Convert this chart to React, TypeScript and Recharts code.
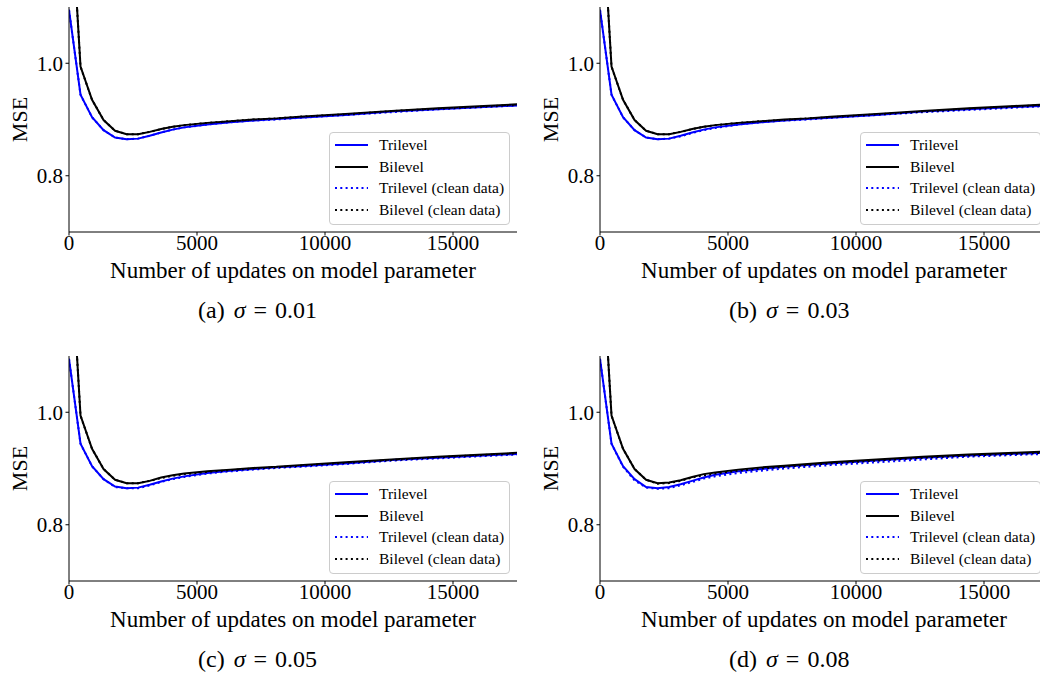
import { Label, Legend, Line, LineChart, XAxis, YAxis } from "recharts";

const FONT = '"Liberation Serif", "Times New Roman", serif';
const BLUE = "#0000ff";
const BLACK = "#000000";

// number of updates on the model parameter (x values of every curve)
const updates = [0, 450, 900, 1350, 1800, 2250, 2700, 3150, 3600, 4050, 4500, 5400, 6300, 7200, 8100, 9000, 10800, 12600, 14400, 16200, 18000];
const xTicks = [0, 5000, 10000, 15000];
const yTicks = [0.8, 1.0];

// (a) sigma = 0.01
const triA = [1.095, 0.944, 0.904, 0.881, 0.868, 0.865, 0.866, 0.871, 0.877, 0.882, 0.886, 0.891, 0.895, 0.898, 0.901, 0.903, 0.908, 0.914, 0.918, 0.922, 0.926];
const biA = [1.34, 0.994, 0.935, 0.899, 0.88, 0.874, 0.874, 0.878, 0.883, 0.887, 0.89, 0.894, 0.897, 0.9, 0.902, 0.905, 0.91, 0.915, 0.92, 0.924, 0.928];
const triCleanA = [1.095, 0.944, 0.904, 0.881, 0.868, 0.865, 0.866, 0.871, 0.877, 0.882, 0.886, 0.891, 0.895, 0.898, 0.9, 0.903, 0.908, 0.913, 0.918, 0.922, 0.926];
const biCleanA = [1.34, 0.994, 0.935, 0.899, 0.88, 0.874, 0.874, 0.878, 0.883, 0.887, 0.89, 0.894, 0.897, 0.9, 0.902, 0.905, 0.909, 0.915, 0.919, 0.923, 0.927];

// (b) sigma = 0.03
const triB = [1.095, 0.944, 0.904, 0.881, 0.868, 0.865, 0.866, 0.871, 0.877, 0.882, 0.886, 0.891, 0.895, 0.898, 0.901, 0.903, 0.908, 0.914, 0.918, 0.922, 0.926];
const biB = [1.34, 0.994, 0.935, 0.899, 0.88, 0.874, 0.874, 0.878, 0.883, 0.887, 0.89, 0.894, 0.897, 0.9, 0.902, 0.905, 0.91, 0.915, 0.92, 0.924, 0.928];
const triCleanB = [1.095, 0.944, 0.904, 0.881, 0.868, 0.865, 0.866, 0.87, 0.876, 0.881, 0.885, 0.891, 0.895, 0.898, 0.9, 0.903, 0.908, 0.913, 0.917, 0.921, 0.925];
const biCleanB = [1.34, 0.994, 0.935, 0.899, 0.88, 0.874, 0.874, 0.878, 0.883, 0.887, 0.89, 0.894, 0.897, 0.899, 0.902, 0.904, 0.909, 0.914, 0.919, 0.923, 0.927];

// (c) sigma = 0.05
const triC = [1.095, 0.944, 0.904, 0.881, 0.868, 0.865, 0.866, 0.871, 0.877, 0.882, 0.886, 0.892, 0.896, 0.899, 0.902, 0.904, 0.909, 0.915, 0.919, 0.923, 0.927];
const biC = [1.34, 0.994, 0.935, 0.899, 0.88, 0.874, 0.874, 0.878, 0.884, 0.888, 0.891, 0.895, 0.898, 0.901, 0.903, 0.906, 0.911, 0.916, 0.921, 0.925, 0.929];
const triCleanC = [1.095, 0.944, 0.904, 0.881, 0.867, 0.865, 0.865, 0.87, 0.876, 0.881, 0.885, 0.891, 0.895, 0.898, 0.901, 0.903, 0.908, 0.914, 0.918, 0.922, 0.926];
const biCleanC = [1.34, 0.994, 0.935, 0.899, 0.88, 0.874, 0.874, 0.878, 0.883, 0.887, 0.89, 0.894, 0.897, 0.9, 0.902, 0.905, 0.91, 0.915, 0.92, 0.924, 0.928];

// (d) sigma = 0.08
const triD = [1.095, 0.944, 0.904, 0.881, 0.867, 0.865, 0.867, 0.872, 0.878, 0.884, 0.889, 0.895, 0.899, 0.903, 0.906, 0.909, 0.914, 0.919, 0.923, 0.926, 0.929];
const biD = [1.34, 0.994, 0.935, 0.899, 0.88, 0.874, 0.875, 0.879, 0.885, 0.89, 0.893, 0.898, 0.902, 0.905, 0.908, 0.911, 0.916, 0.921, 0.925, 0.928, 0.931];
const triCleanD = [1.095, 0.944, 0.903, 0.879, 0.866, 0.864, 0.865, 0.87, 0.876, 0.882, 0.886, 0.892, 0.896, 0.9, 0.903, 0.906, 0.911, 0.916, 0.921, 0.924, 0.927];
const biCleanD = [1.34, 0.994, 0.935, 0.899, 0.88, 0.873, 0.874, 0.878, 0.884, 0.888, 0.891, 0.896, 0.9, 0.903, 0.906, 0.909, 0.914, 0.919, 0.923, 0.926, 0.929];

const seriesStyle = [
  { key: "tri", name: "Trilevel", color: BLUE, dash: undefined },
  { key: "bi", name: "Bilevel", color: BLACK, dash: undefined },
  { key: "triClean", name: "Trilevel (clean data)", color: BLUE, dash: "2 3.3" },
  { key: "biClean", name: "Bilevel (clean data)", color: BLACK, dash: "2 3.3" },
];

function buildRows(tri: number[], bi: number[], triClean: number[], biClean: number[]) {
  return updates.map((u, i) => ({
    updates: u,
    tri: tri[i],
    bi: bi[i],
    triClean: triClean[i],
    biClean: biClean[i],
  }));
}

function LegendBox() {
  return (
    <div
      style={{
        border: "1px solid #cccccc",
        borderRadius: 4,
        background: "rgba(255,255,255,0.8)",
        padding: "1px 5px 3px 4px",
        fontFamily: FONT,
        fontSize: 15.5,
        color: "#000",
      }}
    >
      {seriesStyle.map((s) => (
        <div key={s.key} style={{ display: "flex", alignItems: "center", height: 21.7 }}>
          <svg width={34} height={6} style={{ display: "block" }}>
            <line x1={1} y1={3} x2={34} y2={3} stroke={s.color} strokeWidth={2} strokeDasharray={s.dash} />
          </svg>
          <span style={{ marginLeft: 11, whiteSpace: "nowrap" }}>{s.name}</span>
        </div>
      ))}
    </div>
  );
}

type PanelProps = {
  left: number;
  top: number;
  letter: string;
  sigma: string;
  rows: ReturnType<typeof buildRows>;
};

function Panel({ left, top, letter, sigma, rows }: PanelProps) {
  const tickStyle = { fontFamily: FONT, fontSize: 21, fill: "#000" };
  return (
    <div style={{ position: "absolute", left, top }}>
      <LineChart width={530} height={330} data={rows} margin={{ top: 7, right: 13, bottom: 48, left: 19 }}>
        <XAxis
          dataKey="updates"
          type="number"
          domain={[0, 17500]}
          allowDataOverflow
          ticks={xTicks}
          tick={tickStyle}
          tickSize={3.5}
          tickMargin={0}
          height={50}
          stroke={BLACK}
          interval={0}
        >
          <Label
            value="Number of updates on model parameter"
            position="insideBottom"
            offset={4}
            style={{ fontFamily: FONT, fontSize: 23, fill: "#000" }}
          />
          <Label
            content={(p: any) => {
              const vb = p.viewBox;
              // caption: "(x)" in text font, then the math part with wider spacing
              return (
                <text
                  x={vb.x + vb.width / 2 - 95}
                  y={vb.y + 86}
                  textAnchor="start"
                  fontFamily={FONT}
                  fontSize={24}
                  fill="#000"
                >
                  {`(${letter})`}
                  <tspan dx={9} fontStyle="italic">σ</tspan>
                  <tspan dx={8}>=</tspan>
                  <tspan dx={8}>{sigma}</tspan>
                </text>
              );
            }}
          />
        </XAxis>
        <XAxis
          xAxisId="top"
          orientation="top"
          type="number"
          domain={[0, 17500]}
          tick={false}
          tickLine={false}
          height={0}
          stroke={BLACK}
        />
        <YAxis
          type="number"
          domain={[0.7, 1.1]}
          allowDataOverflow
          ticks={yTicks}
          tickFormatter={(v: number) => v.toFixed(1)}
          tick={tickStyle}
          tickSize={3.5}
          tickMargin={2.5}
          width={50}
          stroke={BLACK}
        >
          <Label
            content={(p: any) => {
              const vb = p.viewBox;
              const cx = vb.x + 7.5;
              const cy = vb.y + vb.height / 2;
              return (
                <text
                  x={cx}
                  y={cy}
                  transform={`rotate(-90 ${cx} ${cy})`}
                  textAnchor="middle"
                  fontFamily={FONT}
                  fontSize={22}
                  fill="#000"
                >
                  MSE
                </text>
              );
            }}
          />
        </YAxis>
        <YAxis yAxisId="right" orientation="right" type="number" domain={[0.7, 1.1]} tick={false} tickLine={false} width={0} stroke={BLACK} />
        <Legend
          layout="horizontal"
          align="center"
          verticalAlign="middle"
          content={() => <LegendBox />}
          wrapperStyle={{ left: 329, top: 132, width: "auto", height: "auto" }}
        />
        {seriesStyle.map((s) => (
          <Line
            key={s.key}
            type="linear"
            dataKey={s.key}
            name={s.name}
            stroke={s.color}
            strokeWidth={2}
            strokeDasharray={s.dash}
            dot={false}
            activeDot={false}
            isAnimationActive={false}
          />
        ))}
      </LineChart>
    </div>
  );
}

export default function App() {
  return (
    <div
      style={{
        position: "fixed",
        left: 0,
        top: 0,
        width: 1040,
        height: 677,
        overflow: "hidden",
        background: "#fff",
      }}
    >
      <Panel left={0} top={0} letter="a" sigma="0.01" rows={buildRows(triA, biA, triCleanA, biCleanA)} />
      <Panel left={531} top={0} letter="b" sigma="0.03" rows={buildRows(triB, biB, triCleanB, biCleanB)} />
      <Panel left={0} top={349} letter="c" sigma="0.05" rows={buildRows(triC, biC, triCleanC, biCleanC)} />
      <Panel left={531} top={349} letter="d" sigma="0.08" rows={buildRows(triD, biD, triCleanD, biCleanD)} />
    </div>
  );
}
